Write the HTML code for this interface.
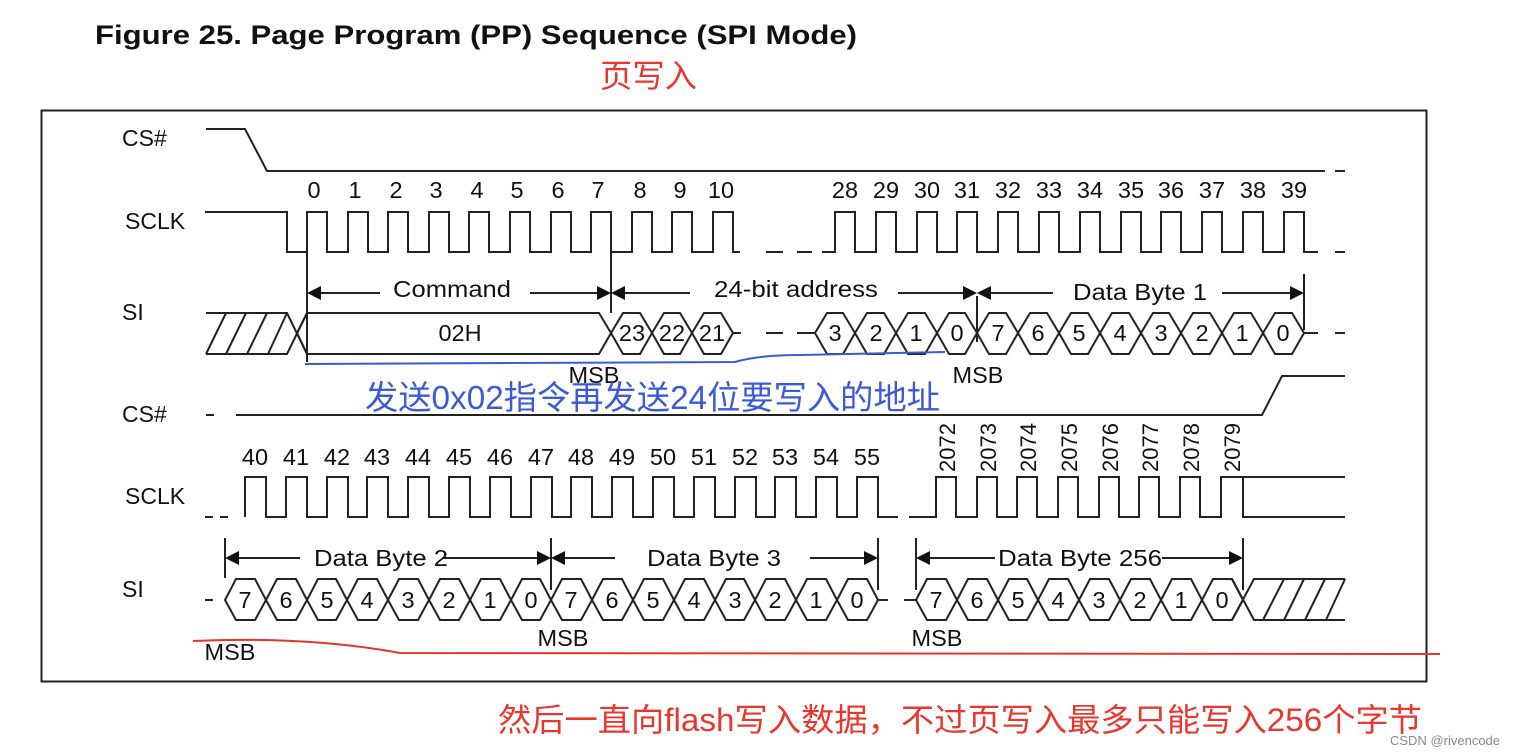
<!DOCTYPE html>
<html><head><meta charset="utf-8"><style>
html,body{margin:0;padding:0;background:#fff;width:1524px;height:755px;overflow:hidden}
svg{display:block}
text{font-family:"Liberation Sans",Arial,sans-serif;fill:#111}
.cjk{font-family:"Liberation Sans","Noto Sans CJK SC",sans-serif}
</style></head><body>
<svg width="1524" height="755" viewBox="0 0 1524 755" xmlns="http://www.w3.org/2000/svg">
<text x="95" y="44" font-size="27" font-weight="bold" textLength="762" lengthAdjust="spacingAndGlyphs">Figure 25.  Page Program (PP) Sequence (SPI Mode)</text>
<text x="600" y="87" font-size="32" class="cjk" style="fill:#e8372f" textLength="97" lengthAdjust="spacingAndGlyphs">页写入</text>
<rect x="41.5" y="110.5" width="1385" height="571" fill="none" stroke="#222" stroke-width="2"/>

<g font-size="23">
<text x="122" y="146">CS#</text>
<text x="125" y="229">SCLK</text>
<text x="122" y="320">SI</text>
<text x="122" y="422">CS#</text>
<text x="125" y="504">SCLK</text>
<text x="122" y="597">SI</text>
</g>

<g fill="none" stroke="#222" stroke-width="2">
<path d="M206,129H245L267,171H1325M1335,171H1345"/>
<path d="M205,212H287V252H307V212H327V252H348V212H368V252H388V212H408V252H429V212H449V252H469V212H489V252H510V212H530V252H551V212H571V252H591V212H611V252H632V212H652V252H672V212H692V252H713V212H733V252H740M766,252H783M797,252H812M822,252H835V212H855V252H876V212H896V252H917V212H937V252H957V212H977V252H998V212H1018V252H1039V212H1059V252H1080V212H1100V252H1121V212H1141V252H1161V212H1181V252H1202V212H1222V252H1243V212H1263V252H1284V212H1304V252H1318M1335,252H1345"/>
<path d="M206,313H287L307,354M206,354H287L307,313M206,354L226,313M226,354L246,313M247,354L267,313M268,354L287,313"/>
<path d="M297,333L307,313H599L611,333L599,354H307Z"/>
<path d="M611,333L623,313H640L652,333L640,354H623ZM652,333L664,313H680L692,333L680,354H664ZM692,333L704,313H721L733,333L721,354H704Z"/>
<path d="M733,333H741M766,333H783M797,333H812M804,333H815"/>
<path d="M815,333L827,313H843L855,333L843,354H827ZM855,333L867,313H884L896,333L884,354H867ZM896,333L908,313H925L937,333L925,354H908ZM937,333L949,313H965L977,333L965,354H949ZM977,333L989,313H1006L1018,333L1006,354H989ZM1018,333L1030,313H1047L1059,333L1047,354H1030ZM1059,333L1071,313H1088L1100,333L1088,354H1071ZM1100,333L1112,313H1129L1141,333L1129,354H1112ZM1141,333L1153,313H1169L1181,333L1169,354H1153ZM1181,333L1193,313H1210L1222,333L1210,354H1193ZM1222,333L1234,313H1251L1263,333L1251,354H1234ZM1263,333L1275,313H1292L1304,333L1292,354H1275Z"/>
<path d="M1304,333H1318M1335,333H1345"/>
<path d="M307,252V362M611,252V313M977,296V342M1304,274V330"/>
<path d="M318,293H380M530,293H600M624,293H690M898,293H966M988,293H1053M1222,293H1292"/>

<path d="M206,415H214M236,415H1262L1282,376H1345"/>
<path d="M205,517H213M220,517H228M245,517V477H266V517H286V477H307V517H327V477H348V517H367V477H388V517H408V477H429V517H449V477H470V517H490V477H511V517H531V477H552V517H571V477H592V517H612V477H633V517H653V477H674V517H694V477H715V517H735V477H756V517H775V477H796V517H816V477H837V517H857V477H878V517H898M909,517H936V477H956V517H977V477H997V517H1017V477H1037V517H1058V477H1078V517H1099V477H1119V517H1139V477H1159V517H1180V477H1200V517H1221V477H1243V517H1345M1243,477H1345"/>
<path d="M205,600H213"/>
<path d="M225,600L236,579H255L266,600L255,620H236ZM266,600L277,579H296L307,600L296,620H277ZM307,600L318,579H336L347,600L336,620H318ZM347,600L358,579H377L388,600L377,620H358ZM388,600L399,579H418L429,600L418,620H399ZM429,600L440,579H459L470,600L459,620H440ZM470,600L481,579H500L511,600L500,620H481ZM511,600L522,579H540L551,600L540,620H522Z"/>
<path d="M551,600L562,579H581L592,600L581,620H562ZM592,600L603,579H622L633,600L622,620H603ZM633,600L644,579H663L674,600L663,620H644ZM674,600L685,579H704L715,600L704,620H685ZM715,600L726,579H744L755,600L744,620H726ZM755,600L766,579H785L796,600L785,620H766ZM796,600L807,579H826L837,600L826,620H807ZM837,600L848,579H867L878,600L867,620H848Z"/>
<path d="M878,600H888M904,600H916"/>
<path d="M916,600L927,579H946L957,600L946,620H927ZM957,600L968,579H987L998,600L987,620H968ZM998,600L1009,579H1027L1038,600L1027,620H1009ZM1038,600L1049,579H1068L1079,600L1068,620H1049ZM1079,600L1090,579H1109L1120,600L1109,620H1090ZM1120,600L1131,579H1150L1161,600L1150,620H1131ZM1161,600L1172,579H1191L1202,600L1191,620H1172ZM1202,600L1213,579H1232L1243,600L1232,620H1213Z"/>
<path d="M1232,579L1254,620H1345M1232,620L1254,579H1345M1263,620L1284,579M1284,620L1304,579M1305,620L1325,579M1326,620L1345,579"/>
<path d="M225,538V578M551,538V590M878,538V590M916,538V590M1243,538V590"/>
<path d="M236,558H300M442,558H540M562,558H615M810,558H866M927,558H995M1162,558H1232"/>
</g>

<g fill="#111">
<path d="M307,293l14,-7v14z"/><path d="M611,293l-14,-7v14z"/><path d="M611,293l14,-7v14z"/>
<path d="M977,293l-14,-7v14z"/><path d="M977,293l14,-7v14z"/><path d="M1304,293l-14,-7v14z"/>
<path d="M225,558l14,-7v14z"/><path d="M551,558l-14,-7v14z"/><path d="M551,558l14,-7v14z"/>
<path d="M878,558l-14,-7v14z"/><path d="M916,558l14,-7v14z"/><path d="M1243,558l-14,-7v14z"/>
</g>

<g font-size="23.5" text-anchor="middle">
<text x="314" y="198">0</text><text x="355" y="198">1</text><text x="396" y="198">2</text><text x="436" y="198">3</text><text x="477" y="198">4</text><text x="517" y="198">5</text><text x="558" y="198">6</text><text x="598" y="198">7</text><text x="640" y="198">8</text><text x="680" y="198">9</text><text x="721" y="198">10</text>
<text x="845" y="198">28</text><text x="886" y="198">29</text><text x="927" y="198">30</text><text x="967" y="198">31</text><text x="1008" y="198">32</text><text x="1049" y="198">33</text><text x="1090" y="198">34</text><text x="1131" y="198">35</text><text x="1171" y="198">36</text><text x="1212" y="198">37</text><text x="1253" y="198">38</text><text x="1294" y="198">39</text>
<text x="452" y="297" textLength="118" lengthAdjust="spacingAndGlyphs">Command</text>
<text x="796" y="297" textLength="164" lengthAdjust="spacingAndGlyphs">24-bit address</text>
<text x="1140" y="300" textLength="134" lengthAdjust="spacingAndGlyphs">Data Byte 1</text>
<text x="460" y="341">02H</text>
<text x="632" y="341">23</text><text x="672" y="341">22</text><text x="712" y="341">21</text>
<text x="835" y="341">3</text><text x="876" y="341">2</text><text x="916" y="341">1</text><text x="957" y="341">0</text>
<text x="998" y="341">7</text><text x="1038" y="341">6</text><text x="1079" y="341">5</text><text x="1120" y="341">4</text><text x="1161" y="341">3</text><text x="1202" y="341">2</text><text x="1242" y="341">1</text><text x="1283" y="341">0</text>
<text x="594" y="383">MSB</text><text x="978" y="383">MSB</text>

<text x="255" y="465">40</text><text x="296" y="465">41</text><text x="337" y="465">42</text><text x="377" y="465">43</text><text x="418" y="465">44</text><text x="459" y="465">45</text><text x="500" y="465">46</text><text x="541" y="465">47</text><text x="581" y="465">48</text><text x="622" y="465">49</text><text x="663" y="465">50</text><text x="704" y="465">51</text><text x="745" y="465">52</text><text x="785" y="465">53</text><text x="826" y="465">54</text><text x="867" y="465">55</text>
<text x="381" y="566" textLength="134" lengthAdjust="spacingAndGlyphs">Data Byte 2</text>
<text x="714" y="566" textLength="134" lengthAdjust="spacingAndGlyphs">Data Byte 3</text>
<text x="1080" y="566" textLength="164" lengthAdjust="spacingAndGlyphs">Data Byte 256</text>
<text x="245" y="608">7</text><text x="286" y="608">6</text><text x="327" y="608">5</text><text x="367" y="608">4</text><text x="408" y="608">3</text><text x="449" y="608">2</text><text x="490" y="608">1</text><text x="531" y="608">0</text>
<text x="571" y="608">7</text><text x="612" y="608">6</text><text x="653" y="608">5</text><text x="694" y="608">4</text><text x="735" y="608">3</text><text x="775" y="608">2</text><text x="816" y="608">1</text><text x="857" y="608">0</text>
<text x="936" y="608">7</text><text x="977" y="608">6</text><text x="1018" y="608">5</text><text x="1058" y="608">4</text><text x="1099" y="608">3</text><text x="1140" y="608">2</text><text x="1181" y="608">1</text><text x="1222" y="608">0</text>
<text x="230" y="660">MSB</text><text x="563" y="646">MSB</text><text x="937" y="646">MSB</text>
</g>
<g font-size="22">
<text transform="translate(955,472) rotate(-90)">2072</text>
<text transform="translate(996,472) rotate(-90)">2073</text>
<text transform="translate(1036,472) rotate(-90)">2074</text>
<text transform="translate(1077,472) rotate(-90)">2075</text>
<text transform="translate(1118,472) rotate(-90)">2076</text>
<text transform="translate(1158,472) rotate(-90)">2077</text>
<text transform="translate(1199,472) rotate(-90)">2078</text>
<text transform="translate(1240,472) rotate(-90)">2079</text>
</g>

<path d="M305,364L735,362C752,357 772,355 800,355L945,352" fill="none" stroke="#3a5ad8" stroke-width="2"/>
<text x="365" y="409" font-size="33" class="cjk" style="fill:#3a5ad8" textLength="575" lengthAdjust="spacingAndGlyphs">发送0x02指令再发送24位要写入的地址</text>
<path d="M193,641C260,638 330,640 400,653L1440,654" fill="none" stroke="#e8332a" stroke-width="2"/>
<text x="498" y="731" font-size="32" class="cjk" style="fill:#e8372f" textLength="924" lengthAdjust="spacingAndGlyphs">然后一直向flash写入数据，不过页写入最多只能写入256个字节</text>
<text x="1390" y="745" font-size="13" style="fill:#888">CSDN @rivencode</text>
</svg>
</body></html>
